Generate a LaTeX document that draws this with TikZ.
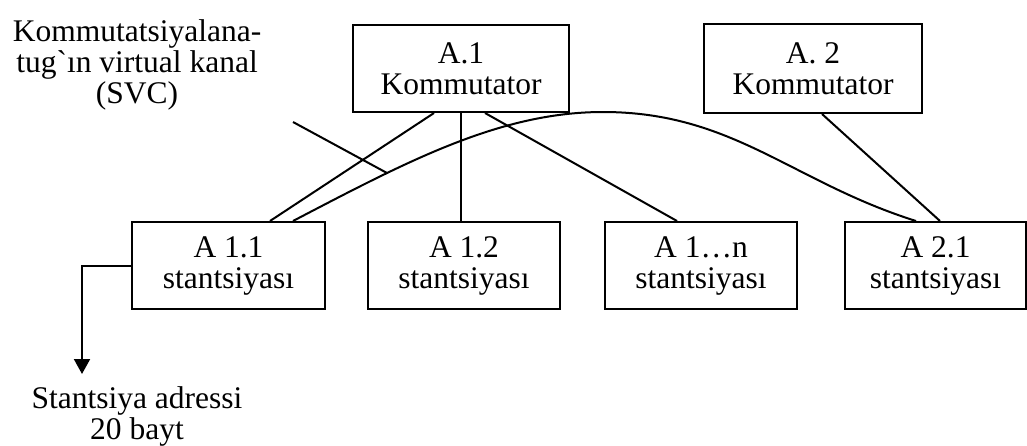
\documentclass[tikz,border=0pt]{standalone}
\usepackage{fontspec}
\setmainfont{Liberation Serif}[Ligatures=TeXOff]
\usetikzlibrary{arrows.meta}
\begin{document}
\begin{tikzpicture}[x=0.5pt,y=-0.5pt,line width=1pt,
    font=\fontsize{15.75pt}{15.5pt}\selectfont,
    box/.style={draw,rectangle,align=center,minimum height=43.5pt,inner sep=0pt}]
  \useasboundingbox (0,0) rectangle (1027,445);

  \node[box,minimum width=108pt] (kom1) at (461,68.5) {A.1\\Kommutator};
  \node[box,minimum width=109pt,minimum height=44.5pt] (kom2) at (813,68.5) {A. 2\\Kommutator};

  \foreach \x/\w/\name/\str in {228.5/96.5/st11/A 1.1,
                                464/96/st12/A 1.2,
                                701/96/st1n/A 1…n,
                                935.5/90.5/st21/A 2.1}
  {\node[box,minimum width=\w pt] (\name) at (\x,265.5) {\str\\stantsiyası};}

  \draw ([xshift=-13.5pt]kom1.south) -- ([xshift=20.75pt]st11.north);
  \draw (kom1.south) -- (kom1.south |- st12.north);
  \draw ([xshift=12pt]kom1.south) -- ([xshift=-12pt]st1n.north);
  \draw ([xshift=4.5pt]kom2.south) -- ([xshift=2.25pt]st21.north);

  % virtual kanal
  \coordinate (svctop) at (603,112);
  \draw ([xshift=32.25pt]st11.north) .. controls (407,161.5) and (500,112) .. (svctop)
    .. controls (733,112) and (792,182) .. ([xshift=-9.75pt]st21.north);

  \node[align=center] (svc) at (137,65) {Kommutatsiyalana-\\tug`ın virtual kanal\\(SVC)};
  \coordinate (svcfrom) at (293,122);
  \coordinate (svcto) at (387,173);
  \draw (svcfrom) -- (svcto);

  \node[align=center] (adr) at (137,416) {Stantsiya adressi\\20 bayt};
  \coordinate (adrtip) at (82,374);
  \draw[-{Triangle[width=8pt,length=7.5pt]}] (st11.west) -| (adrtip);
\end{tikzpicture}
\end{document}
